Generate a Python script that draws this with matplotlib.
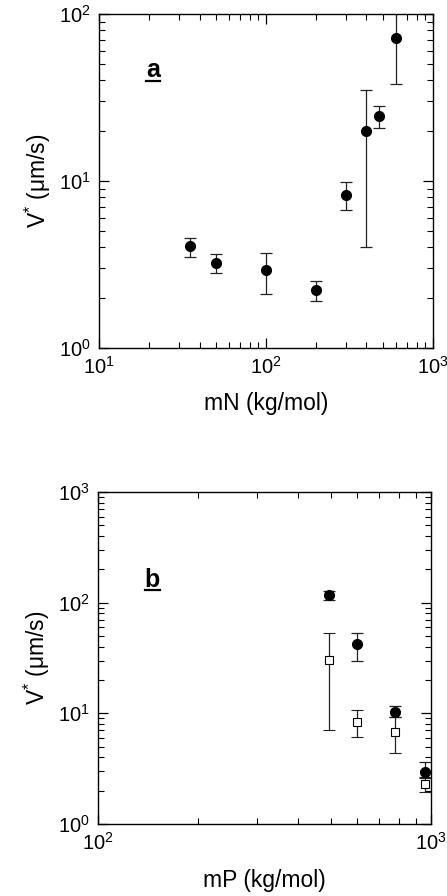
import matplotlib
matplotlib.use("Agg")
import matplotlib.pyplot as plt
from matplotlib.lines import Line2D
from matplotlib.ticker import LogLocator, LogFormatterMathtext, NullFormatter

plt.rcParams['font.family'] = ['Liberation Sans', 'DejaVu Sans']
plt.rcParams['mathtext.fontset'] = 'custom'
plt.rcParams['mathtext.rm'] = 'Liberation Sans'
plt.rcParams['mathtext.bf'] = 'Liberation Sans:bold'
plt.rcParams['mathtext.it'] = 'Liberation Sans:italic'

# Panel a data
mN = [35, 50, 100, 200, 300, 400, 475, 600]
v_a = [4.06, 3.24, 2.94, 2.23, 8.3, 19.8, 24.6, 72.2]
v_a_hi = [4.53, 3.63, 3.72, 2.53, 9.8, 35.3, 28.2, 130.0]
v_a_lo = [3.53, 2.82, 2.12, 1.92, 6.7, 4.04, 20.7, 37.9]

# Panel b data
mP = [495, 600, 780, 960]
v_b_circ = [118, 42.1, 10.3, 2.92]
v_b_circ_hi = [127, 53.7, 11.6, 3.65]
v_b_circ_lo = [105, 29.8, 9.3, 2.6]
v_b_sq = [30.2, 8.39, 6.72, 2.28]
v_b_sq_hi = [53.7, 10.8, 9.3, 2.67]
v_b_sq_lo = [7.0, 6.05, 4.34, 1.96]

fig = plt.figure(figsize=(4.47, 8.96), dpi=100)
ax1 = fig.add_axes([0.2215, 0.6116, 0.747, 0.3728])
ax2 = fig.add_axes([0.219, 0.0804, 0.745, 0.3705])

ecol = '#222222'

def errs(v, lo, hi):
    return [[a - b for a, b in zip(v, lo)], [c - a for a, c in zip(v, hi)]]

ax1.errorbar(mN, v_a, yerr=errs(v_a, v_a_lo, v_a_hi), fmt='o', color='black',
             ms=7, ecolor=ecol, elinewidth=0.9, capsize=4.5, capthick=0.9)
ax1.set_xscale('log'); ax1.set_yscale('log')
ax1.set_xlim(10, 1000); ax1.set_ylim(1, 100)
ax1.set_xlabel('mN (kg/mol)', fontsize=16.5, labelpad=10)
ax1.set_ylabel('V$^{*}$ (μm/s)', fontsize=16.5, labelpad=4)
ta = ax1.text(0.14, 0.81, 'a', transform=ax1.transAxes, fontsize=18, fontweight='bold')

ax2.errorbar(mP, v_b_sq, yerr=errs(v_b_sq, v_b_sq_lo, v_b_sq_hi), fmt='s', color='black',
             mfc='white', mec='black', mew=0.8, ms=6, ecolor=ecol, elinewidth=0.9,
             capsize=4.5, capthick=0.9, clip_on=False, zorder=3)
ax2.errorbar(mP, v_b_circ, yerr=errs(v_b_circ, v_b_circ_lo, v_b_circ_hi), fmt='o', color='black',
             ms=7, ecolor=ecol, elinewidth=0.9, capsize=4.5, capthick=0.9, clip_on=False, zorder=4)
ax2.set_xscale('log'); ax2.set_yscale('log')
ax2.set_xlim(100, 1000); ax2.set_ylim(1, 1000)
ax2.set_xlabel('mP (kg/mol)', fontsize=16.5, labelpad=11)
ax2.set_ylabel('V$^{*}$ (μm/s)', fontsize=16.5, labelpad=4)
tb = ax2.text(0.14, 0.715, 'b', transform=ax2.transAxes, fontsize=18, fontweight='bold')

for ax in (ax1, ax2):
    for axis in (ax.xaxis, ax.yaxis):
        axis.set_major_locator(LogLocator(base=10))
        axis.set_minor_locator(LogLocator(base=10, subs=range(2, 10)))
        axis.set_major_formatter(LogFormatterMathtext())
        axis.set_minor_formatter(NullFormatter())
    ax.tick_params(which='both', direction='in', top=True, right=True, labelsize=14.5)
    ax.tick_params(which='major', length=7, width=0.9, pad=6)
    ax.tick_params(which='minor', length=4, width=0.8)
    for s in ax.spines.values():
        s.set_linewidth(1.0)

# underline panel letters
fig.canvas.draw()
r = fig.canvas.get_renderer()
for t in (ta, tb):
    bb = t.get_window_extent(renderer=r)
    y = bb.y0 + 1.5
    fig.add_artist(Line2D([bb.x0, bb.x1], [y, y], transform=None, color='black', lw=1.6))

fig.savefig('out.png', dpi=100)
